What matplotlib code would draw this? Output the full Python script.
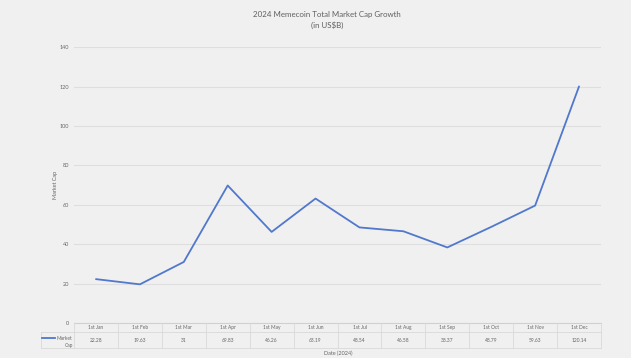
import matplotlib
matplotlib.use("Agg")
import matplotlib.pyplot as plt
import matplotlib.transforms as mtransforms
from matplotlib.lines import Line2D

months = ["1st Jan", "1st Feb", "1st Mar", "1st Apr", "1st May", "1st Jun",
          "1st Jul", "1st Aug", "1st Sep", "1st Oct", "1st Nov", "1st Dec"]
market_cap = [22.28, 19.63, 31, 69.83, 46.26, 63.19, 48.54, 46.58, 38.37, 48.79, 59.63, 120.14]
value_labels = ["22.28", "19.63", "31", "69.83", "46.26", "63.19",
                "48.54", "46.58", "38.37", "48.79", "59.63", "120.14"]
y_ticks = [0, 20, 40, 60, 80, 100, 120, 140]

BG = "#f0f0f0"
LINE = "#5078CC"
GRID = "#dedede"
TXT = "#666666"
FONT = ["Lato", "DejaVu Sans"]

plt.rcParams["font.family"] = FONT

fig = plt.figure(figsize=(6.31, 3.58), dpi=100, facecolor=BG)
ax = fig.add_axes([74 / 631, 1 - 323 / 358, 527 / 631, (323 - 47.3) / 358])
ax.set_facecolor(BG)

x = list(range(len(months)))
ax.plot(x, market_cap, color=LINE, lw=1.3, solid_capstyle="round")

ax.set_xlim(-0.5, len(months) - 0.5)
ax.set_ylim(0, 140)
ax.set_yticks(y_ticks)
ax.set_yticklabels([str(t) for t in y_ticks], fontsize=4, color=TXT)
ax.tick_params(axis="y", length=0, pad=3.5)
ax.set_xticks([])
for s in ax.spines.values():
    s.set_visible(False)
ax.grid(axis="y", color=GRID, lw=0.8)
ax.set_axisbelow(True)

ax.set_ylabel("Market Cap", fontsize=4, color=TXT, labelpad=1.5)
fig.text(338 / 631, 1 - 353 / 358, "Date (2024)", ha="center",
         va="center", fontsize=4, color=TXT)
fig.text(327 / 631, 1 - 14 / 358, "2024 Memecoin Total Market Cap Growth",
         ha="center", va="center", fontsize=5.7, color="#5f5f5f")
fig.text(327 / 631, 1 - 25 / 358, "(in US$B)",
         ha="center", va="center", fontsize=5.7, color="#5f5f5f")

# data table
trans = mtransforms.blended_transform_factory(ax.transData, ax.transAxes)
h_ax = 323 - 47.3
y0 = 0.0
y1 = -9 / h_ax
y2 = -25 / h_ax
xl, xr = -0.5, len(months) - 0.5
legend_left = -0.5 - (74 - 41) / (527 / 12)
tcol = "#d9d9d9"
kw = dict(color=tcol, lw=0.6, transform=trans, clip_on=False)
ax.add_line(Line2D([xl, xr], [y0, y0], color="#d0d0d0", lw=0.8, transform=trans, clip_on=False))
ax.add_line(Line2D([legend_left, xr], [y1, y1], **kw))
ax.add_line(Line2D([legend_left, xr], [y2, y2], **kw))
ax.add_line(Line2D([legend_left, legend_left], [y1, y2], **kw))
for i in range(len(months) + 1):
    xv = i - 0.5
    ax.add_line(Line2D([xv, xv], [y0, y2], **kw))
for i, (m, v) in enumerate(zip(months, value_labels)):
    ax.text(i, (y0 + y1) / 2, m, transform=trans, ha="center", va="center",
            fontsize=3.5, color=TXT, clip_on=False)
    ax.text(i, (y1 + y2) / 2, v, transform=trans, ha="center", va="center",
            fontsize=3.5, color=TXT, clip_on=False)
# legend key
kx0 = legend_left + 0.03
kx1 = legend_left + 0.33
ky = (y1 + y2) / 2 + 0.006
ax.add_line(Line2D([kx0, kx1], [ky, ky], color=LINE, lw=1.3, transform=trans, clip_on=False))
ax.text(-0.53, ky, "Market", transform=trans, ha="right", va="center",
        fontsize=3.5, color=TXT, clip_on=False)
ax.text(-0.53, ky - 0.026, "Cap", transform=trans, ha="right", va="center",
        fontsize=3.5, color=TXT, clip_on=False)

fig.savefig("out.png", dpi=100, facecolor=BG)
